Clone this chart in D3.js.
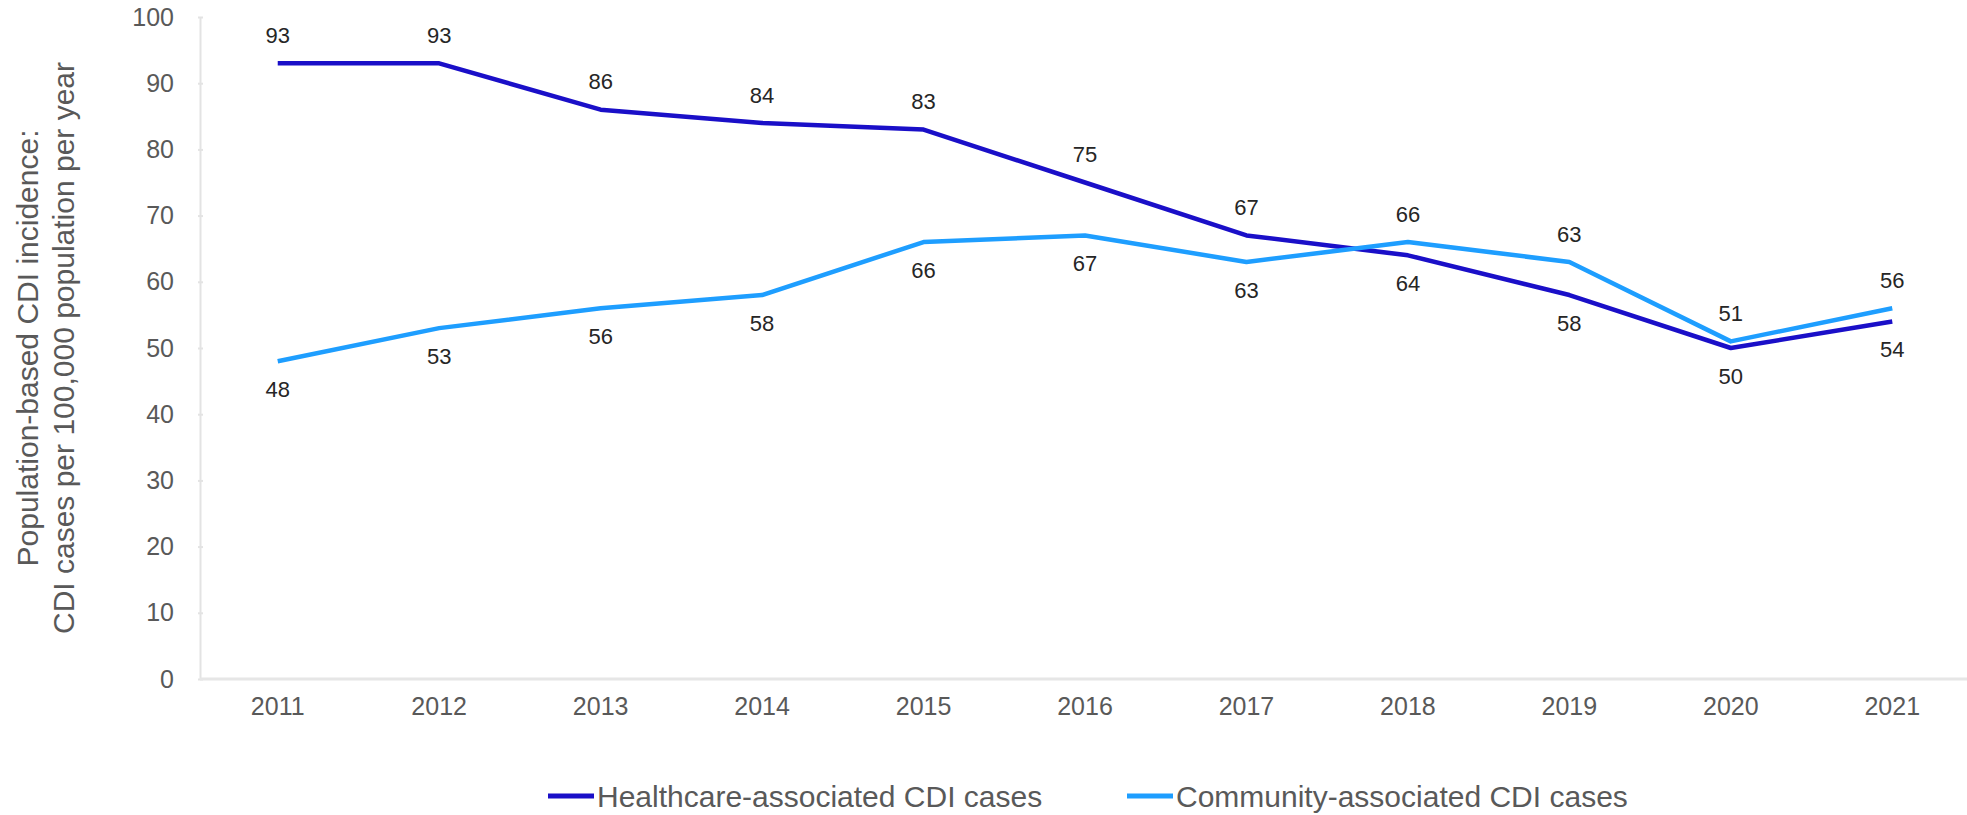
<!DOCTYPE html>
<html>
<head>
<meta charset="utf-8">
<script src="https://cdn.jsdelivr.net/npm/d3@7"></script>
<style>
  html, body { margin: 0; padding: 0; background: #fff; }
  svg { display: block; font-family: "Liberation Sans", Arial, Helvetica, sans-serif; }
</style>
</head>
<body>
<svg id="chart" width="1967" height="815"></svg>
<script>
// CDI incidence per 100,000 population per year
const years = ["2011", "2012", "2013", "2014", "2015", "2016", "2017", "2018", "2019", "2020", "2021"];
const healthcareAssociated = [93, 93, 86, 84, 83, 75, 67, 64, 58, 50, 54];
const communityAssociated = [48, 53, 56, 58, 66, 67, 63, 66, 63, 51, 56];
// label placement per point: -1 above the line, +1 below
const healthcareLabelSide = [-1, -1, -1, -1, -1, -1, -1, 1, 1, 1, 1];
const communityLabelSide = [1, 1, 1, 1, 1, 1, 1, -1, -1, -1, -1];
const yTicks = [0, 10, 20, 30, 40, 50, 60, 70, 80, 90, 100];
const seriesNames = ["Healthcare-associated CDI cases", "Community-associated CDI cases"];
const seriesColors = ["#1a0fc8", "#1e9eff"];

const svg = d3.select("#chart");
const plot = { left: 200, right: 1967, top: 17, bottom: 679 };

const x = d3.scaleBand().domain(years).range([197, 1973]);
const y = d3.scaleLinear().domain([0, 100]).range([plot.bottom, plot.top]);
const xc = d => x(d) + x.bandwidth() / 2;

// y axis
const yAxis = svg.append("g")
  .attr("transform", `translate(${plot.left},0)`)
  .call(d3.axisLeft(y).tickValues(yTicks).tickSize(4).tickPadding(22).tickSizeOuter(0));
yAxis.select(".domain").attr("stroke", "#e3e3e3").attr("stroke-width", 2);
yAxis.selectAll(".tick line").attr("stroke", "#e3e3e3").attr("stroke-width", 2).attr("x2", 3).attr("x1", -2);
yAxis.selectAll(".tick text")
  .attr("fill", "#595959").style("font-size", "25px")
  .attr("font-family", "Liberation Sans, Arial, sans-serif");

// x axis
const xAxis = svg.append("g")
  .attr("transform", `translate(0,${plot.bottom})`)
  .call(d3.axisBottom(x).tickSize(0).tickPadding(18));
xAxis.select(".domain").remove();
xAxis.append("line")
  .attr("x1", plot.left).attr("x2", plot.right)
  .attr("y1", 0).attr("y2", 0)
  .attr("stroke", "#e6e6e6").attr("stroke-width", 3);
xAxis.selectAll(".tick text")
  .attr("fill", "#595959").style("font-size", "25px")
  .attr("font-family", "Liberation Sans, Arial, sans-serif");

// y axis title
svg.append("text")
  .attr("transform", `translate(27,${(plot.top + plot.bottom) / 2}) rotate(-90)`)
  .attr("text-anchor", "middle")
  .attr("fill", "#595959")
  .style("font-size", "30px")
  .selectAll("tspan")
  .data(["Population-based CDI incidence:", "CDI cases per 100,000 population per year"])
  .join("tspan")
  .attr("x", 0)
  .attr("dy", (d, i) => i === 0 ? "0.35em" : "36px")
  .text(d => d);

// series lines and value labels
const series = [
  { values: healthcareAssociated, sides: healthcareLabelSide, color: seriesColors[0] },
  { values: communityAssociated, sides: communityLabelSide, color: seriesColors[1] }
];
const line = d3.line().x((d, i) => xc(years[i])).y(d => y(d));

series.forEach(s => {
  svg.append("path")
    .datum(s.values)
    .attr("d", line)
    .attr("fill", "none")
    .attr("stroke", s.color)
    .attr("stroke-width", 4.5)
    .attr("stroke-linejoin", "round");
});

// labels drawn after lines so they sit on top
series.forEach(s => {
  svg.append("g").selectAll("text")
    .data(s.values)
    .join("text")
    .attr("x", (d, i) => xc(years[i]))
    .attr("y", (d, i) => y(d) + s.sides[i] * 28)
    .attr("dy", "0.35em")
    .attr("text-anchor", "middle")
    .attr("fill", "#262626")
    .style("font-size", "22px")
    .text(d => d);
});

// legend
const legendItems = [
  { name: seriesNames[0], color: seriesColors[0], x: 548 },
  { name: seriesNames[1], color: seriesColors[1], x: 1127 }
];
const legend = svg.append("g").attr("transform", "translate(0,796)");
legendItems.forEach(item => {
  legend.append("line")
    .attr("x1", item.x).attr("x2", item.x + 46)
    .attr("y1", 0).attr("y2", 0)
    .attr("stroke", item.color).attr("stroke-width", 5);
  legend.append("text")
    .attr("x", item.x + 49).attr("y", 0)
    .attr("dy", "0.35em")
    .attr("fill", "#595959")
    .style("font-size", "30px")
    .text(item.name);
});
</script>
</body>
</html>
